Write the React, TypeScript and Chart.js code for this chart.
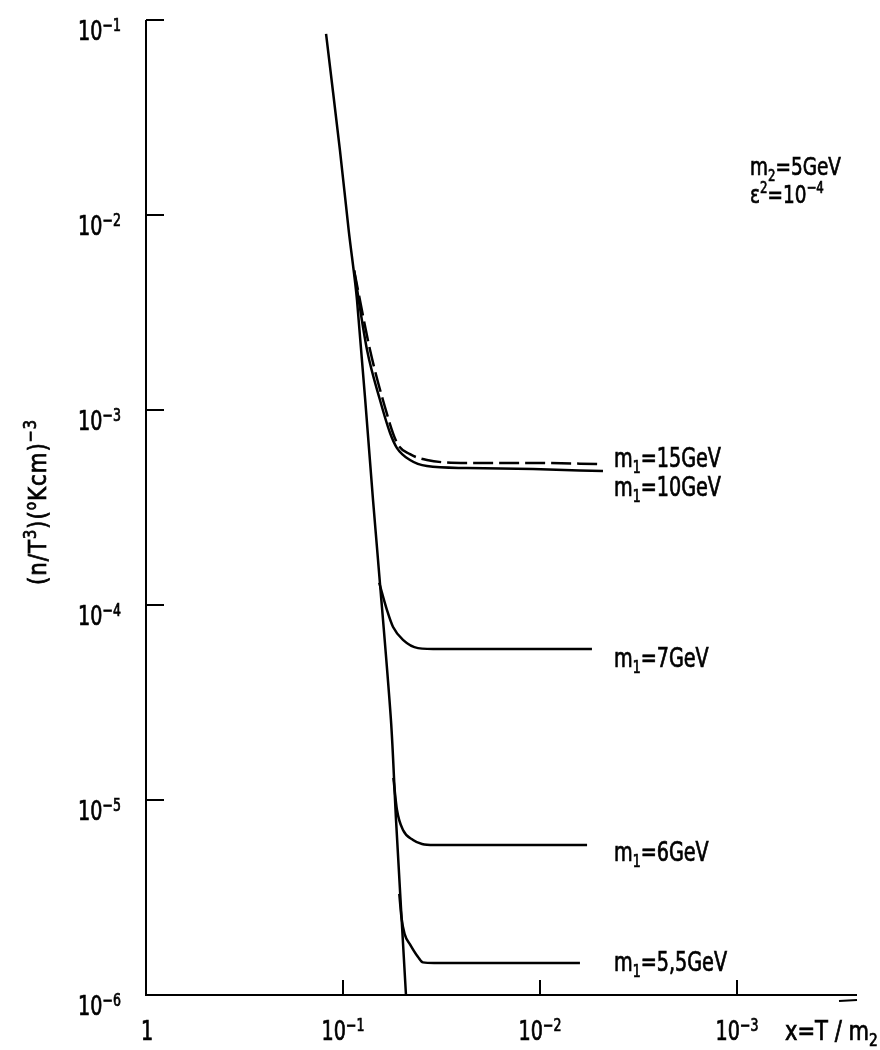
import React, { useEffect, useRef } from "react";
import { Chart, registerables } from "chart.js";

Chart.register(...registerables);

// ---------- data ----------
// equilibrium curve
const eqX = [0.1219, 0.1036, 0.0935, 0.0849, 0.0704, 0.0664, 0.0571, 0.0538, 0.0479];
const eqY = [0.0848, 0.0214, 8.3e-3, 3.66e-3, 3.45e-4, 1.7e-4, 2.57e-5, 7.89e-6, 1e-6];
// m1 = 15 GeV (dashed)
const m15X = [0.0878, 0.0729, 0.0627, 0.0532, 0.0457, 0.0375, 0.0235, 0.01086, 0.00479];
const m15Y = [5.2e-3, 2.03e-3, 1.125e-3, 6.78e-4, 5.94e-4, 5.54e-4, 5.35e-4, 5.35e-4, 5.28e-4];
// m1 = 10 GeV
const m10X = [0.0878, 0.0755, 0.0649, 0.0577, 0.0532, 0.0457, 0.0375, 0.0235, 0.01086, 0.00479];
const m10Y = [5.2e-3, 2.03e-3, 1.125e-3, 7.62e-4, 6.38e-4, 5.54e-4, 5.16e-4, 5.04e-4, 4.98e-4, 4.86e-4];
// m1 = 7 GeV
const m7X = [0.0655, 0.0598, 0.0557, 0.0496, 0.0416, 0.0322, 0.00545];
const m7Y = [1.3e-4, 9.42e-5, 7.71e-5, 6.62e-5, 6.01e-5, 5.94e-5, 5.94e-5];
// m1 = 6 GeV
const m6X = [0.0555, 0.0532, 0.0496, 0.0441, 0.0397, 0.0345, 0.00577];
const m6Y = [1.3e-5, 8.89e-6, 7.02e-6, 6.24e-6, 5.95e-6, 5.88e-6, 5.88e-6];
// m1 = 5.5 GeV
const m55X = [0.0518, 0.0505, 0.0487, 0.0457, 0.0416, 0.0393, 0.0345, 0.00627];
const m55Y = [3.3e-6, 2.5e-6, 2.06e-6, 1.82e-6, 1.567e-6, 1.47e-6, 1.459e-6, 1.459e-6];

const seriesNames = ["eq", "m1=15GeV", "m1=10GeV", "m1=7GeV", "m1=6GeV", "m1=5,5GeV"];
const seriesLabels = ["15GeV", "10GeV", "7GeV", "6GeV", "5,5GeV"];

// axes
const xMin = 2.46e-4;
const xMax = 1;
const yMin = 1e-6;
const yMax = 1e-1;
const yTickValues = [1e-1, 1e-2, 1e-3, 1e-4, 1e-5, 1e-6];
const yTickExps = ["−1", "−2", "−3", "−4", "−5", "−6"];
const xTickValues = [1, 1e-1, 1e-2, 1e-3];
const xTickExps = ["", "−1", "−2", "−3"];

const FONT =
  "'Liberation Sans Narrow', 'DejaVu Sans Condensed', 'Roboto Condensed', 'Liberation Sans', sans-serif";

type Part = { t: string; s: number; dy?: number };

function drawRich(
  ctx: CanvasRenderingContext2D,
  parts: Part[],
  x: number,
  y: number,
  align: "left" | "center" | "right",
  sx = 0.82
) {
  let total = 0;
  const widths = parts.map((p) => {
    ctx.font = `${p.s}px ${FONT}`;
    const w = ctx.measureText(p.t).width;
    total += w;
    return w;
  });
  const scaled = total * sx;
  const x0 = align === "left" ? x : align === "center" ? x - scaled / 2 : x - scaled;
  ctx.save();
  ctx.translate(x0, y);
  ctx.scale(sx, 1);
  ctx.textAlign = "left";
  ctx.textBaseline = "alphabetic";
  ctx.lineWidth = 0.7;
  ctx.strokeStyle = "#000";
  let cx = 0;
  parts.forEach((p, i) => {
    ctx.font = `${p.s}px ${FONT}`;
    ctx.fillText(p.t, cx, p.dy || 0);
    ctx.strokeText(p.t, cx, p.dy || 0);
    cx += widths[i];
  });
  ctx.restore();
}

const toPts = (xs: number[], ys: number[]) => xs.map((x, i) => ({ x, y: ys[i] }));

const decorPlugin = {
  id: "decor",
  afterDraw(chart: any) {
    const ctx: CanvasRenderingContext2D = chart.ctx;
    const xs = chart.scales.x;
    const ys = chart.scales.y;
    const { left, right, top, bottom } = chart.chartArea;
    ctx.save();
    ctx.strokeStyle = "#000";
    ctx.fillStyle = "#000";
    ctx.lineWidth = 2;
    ctx.lineCap = "butt";
    // axes lines
    ctx.beginPath();
    ctx.moveTo(left, top);
    ctx.lineTo(left, bottom);
    ctx.lineTo(right, bottom);
    ctx.stroke();
    // end mark below axis
    ctx.beginPath();
    ctx.moveTo(right - 18, bottom + 6);
    ctx.lineTo(right, bottom + 5);
    ctx.stroke();

    // y ticks (inside) and labels
    yTickValues.forEach((v, i) => {
      const py = ys.getPixelForValue(v);
      if (v > yMin) {
        ctx.beginPath();
        ctx.moveTo(left, py);
        ctx.lineTo(left + 18, py);
        ctx.stroke();
      }
      drawRich(
        ctx,
        [
          { t: "10", s: 26 },
          { t: yTickExps[i], s: 17, dy: -9 },
        ],
        78,
        py + 20,
        "left"
      );
    });

    // x ticks (inside) and labels
    xTickValues.forEach((v, i) => {
      const px = xs.getPixelForValue(v);
      if (v < xMax) {
        ctx.beginPath();
        ctx.moveTo(px, bottom);
        ctx.lineTo(px, bottom - 15);
        ctx.stroke();
        drawRich(
          ctx,
          [
            { t: "10", s: 26 },
            { t: xTickExps[i], s: 17, dy: -9 },
          ],
          px,
          bottom + 45,
          "center"
        );
      } else {
        drawRich(ctx, [{ t: "1", s: 26 }], px + 1, bottom + 45, "center");
      }
    });

    // x axis title
    drawRich(
      ctx,
      [
        { t: "x=T / m", s: 26 },
        { t: "2", s: 17, dy: 6 },
      ],
      785,
      bottom + 45,
      "left",
      0.9
    );

    // y axis title (rotated)
    ctx.save();
    ctx.translate(46, 502);
    ctx.rotate(-Math.PI / 2);
    (ctx as any).letterSpacing = "1px";
    drawRich(
      ctx,
      [
        { t: "(n/T", s: 25 },
        { t: "3", s: 17, dy: -10 },
        { t: ")(", s: 25 },
        { t: "o", s: 16, dy: -10 },
        { t: "Kcm)", s: 25 },
        { t: "−3", s: 17, dy: -10 },
      ],
      0,
      0,
      "center",
      0.95
    );
    (ctx as any).letterSpacing = "0px";
    ctx.restore();

    // curve labels
    const labelBaselines = [467, 496, 667, 861, 971];
    seriesLabels.forEach((lab, i) => {
      drawRich(
        ctx,
        [
          { t: "m", s: 26 },
          { t: "1", s: 17, dy: 6 },
          { t: "=" + lab, s: 26 },
        ],
        614,
        labelBaselines[i],
        "left"
      );
    });

    // parameters annotation
    drawRich(
      ctx,
      [
        { t: "m", s: 25 },
        { t: "2", s: 16, dy: 6 },
        { t: "=5GeV", s: 25 },
      ],
      750,
      175,
      "left"
    );
    drawRich(
      ctx,
      [
        { t: "ε", s: 25 },
        { t: "2", s: 16, dy: -10 },
        { t: "=10", s: 25 },
        { t: "−4", s: 16, dy: -10 },
      ],
      750,
      203,
      "left"
    );
    ctx.restore();
  },
};

export default function App() {
  const ref = useRef<HTMLCanvasElement | null>(null);
  useEffect(() => {
    if (!ref.current) return;
    const common = {
      borderColor: "#000",
      borderWidth: 2.5,
      pointRadius: 0,
      showLine: true,
      fill: false,
      cubicInterpolationMode: "monotone",
    };
    const chart = new Chart(ref.current, {
      type: "scatter",
      data: {
        datasets: [
          { ...common, label: seriesNames[0], data: toPts(eqX, eqY), cubicInterpolationMode: "default", tension: 0.3 },
          { ...common, label: seriesNames[1], data: toPts(m15X, m15Y), borderDash: [20, 6] },
          { ...common, label: seriesNames[2], data: toPts(m10X, m10Y) },
          { ...common, label: seriesNames[3], data: toPts(m7X, m7Y) },
          { ...common, label: seriesNames[4], data: toPts(m6X, m6Y) },
          { ...common, label: seriesNames[5], data: toPts(m55X, m55Y) },
        ] as any,
      },
      options: {
        animation: false,
        responsive: false,
        devicePixelRatio: 1,
        layout: { padding: { left: 146, right: 23, top: 20, bottom: 55 } },
        plugins: { legend: { display: false }, tooltip: { enabled: false } },
        scales: {
          x: { type: "logarithmic", min: xMin, max: xMax, reverse: true, display: false },
          y: { type: "logarithmic", min: yMin, max: yMax, display: false },
        },
      },
      plugins: [decorPlugin],
    });
    return () => chart.destroy();
  }, []);
  return (
    <div style={{ position: "absolute", left: 0, top: 0, width: 880, height: 1050, background: "#fff" }}>
      <canvas ref={ref} width={880} height={1050} />
    </div>
  );
}
